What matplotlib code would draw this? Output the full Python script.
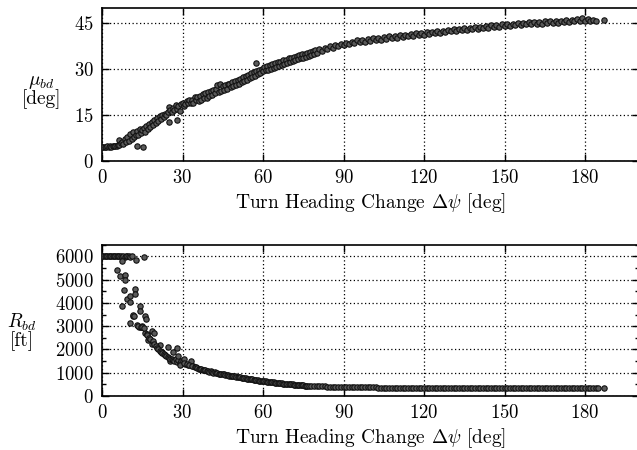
import matplotlib
matplotlib.use("Agg")
import matplotlib.pyplot as plt
from matplotlib.ticker import MultipleLocator

plt.rcParams["font.family"] = "serif"
plt.rcParams["font.serif"] = ["cmr10", "DejaVu Serif"]
plt.rcParams["mathtext.fontset"] = "cm"
plt.rcParams["axes.formatter.use_mathtext"] = True

# Bank angle versus turn heading change
mu_x = [
    0, 0.5, 1, 1.5, 2, 2.5, 3, 3.5, 4, 4.5,
    5, 5.5, 6, 6.2, 6.5, 7, 7.5, 8, 8.5, 9,
    9.5, 10, 10.5, 11, 11.5, 12, 12.5, 13, 13.2, 13.5,
    14, 14.5, 15, 15.2, 15.5, 16, 16.5, 17, 17.5, 18,
    18.5, 19, 19.5, 20, 20.5, 21, 21.5, 22, 22.5, 23,
    23.5, 24, 24.5, 24.8, 25, 25.5, 26, 26.5, 27, 27.4,
    27.9, 28, 28.5, 29, 29.5, 30, 30.5, 31, 31.5, 32,
    32.5, 33, 33.5, 34, 34.5, 35, 35.5, 36, 36.5, 37,
    37.5, 38, 38.5, 39, 39.5, 40, 40.5, 41, 41.5, 42,
    42.5, 43, 43.5, 44, 44.5, 45, 45.5, 46, 46.5, 47,
    47.5, 48, 48.5, 49, 49.5, 50, 50.5, 51, 51.5, 52,
    52.5, 53, 53.5, 54, 54.5, 55, 55.5, 56, 56.5, 57,
    57.3, 57.5, 58, 58.5, 59, 59.5, 60, 60.5, 61, 61.5,
    62, 62.5, 63, 63.5, 64, 64.5, 65, 65.5, 66, 66.5,
    67, 67.5, 68, 68.5, 69, 69.5, 70, 70.5, 71, 71.5,
    72, 72.5, 73, 73.5, 74, 74.5, 75, 75.5, 76, 76.5,
    77, 77.5, 78, 78.5, 79, 79.5, 80, 81, 82, 83,
    84, 85, 86, 87, 88, 89, 90, 91, 92, 93,
    94, 95, 96, 97, 98, 99, 100, 101, 102, 103,
    104, 105, 106, 107, 108, 109, 110, 111, 112, 113,
    114, 115, 116, 117, 118, 119, 120, 121, 122, 123,
    124, 125, 126, 127, 128, 129, 130, 131, 132, 133,
    134, 135, 136, 137, 138, 139, 140, 141, 142, 143,
    144, 145, 146, 147, 148, 149, 150, 151, 152, 153,
    154, 155, 156, 157, 158, 159, 160, 161, 162, 163,
    164, 165, 166, 167, 168, 169, 170, 171, 172, 173,
    174, 175, 176, 177, 178, 179, 180, 181, 182, 183,
    184, 187,
]
mu_y = [
    4.5, 4.4, 4.5, 4.5, 4.6, 4.5, 4.6, 4.5, 4.7, 4.6,
    4.8, 4.9, 5.0, 6.8, 5.2, 5.6, 6.2, 5.4, 7.0, 6.0,
    7.8, 6.4, 8.6, 7.2, 9.2, 7.8, 8.4, 9.6, 4.7, 8.2,
    10.4, 9.0, 10.0, 4.5, 10.8, 9.4, 11.4, 10.2, 12.0, 11.0,
    12.6, 11.8, 13.4, 12.4, 14.0, 13.0, 14.6, 13.6, 15.0, 14.2,
    15.4, 14.8, 16.0, 12.6, 17.5, 16.6, 15.8, 17.2, 16.4, 18.2,
    13.2, 17.0, 17.8, 16.2, 18.4, 18.8, 18.0, 18.6, 19.4, 18.8,
    19.7, 18.7, 19.7, 18.8, 20.7, 19.7, 20.9, 19.6, 21.2, 20.0,
    21.8, 20.6, 22.0, 20.6, 22.5, 21.3, 22.8, 21.4, 23.2, 22.0,
    23.5, 24.8, 22.4, 25.0, 22.8, 24.4, 23.0, 24.7, 23.4, 25.0,
    25.2, 24.0, 25.8, 24.3, 26.0, 24.8, 26.4, 25.1, 26.8, 25.6,
    27.3, 26.0, 27.8, 26.4, 28.0, 26.9, 28.6, 27.3, 29.0, 27.7,
    32.0, 29.2, 28.2, 29.6, 28.6, 30.0, 29.2, 30.6, 29.6, 31.0,
    29.8, 31.2, 30.0, 31.6, 30.4, 32.0, 30.8, 32.2, 31.0, 32.4,
    31.4, 32.8, 31.7, 33.1, 32.0, 33.5, 32.3, 33.7, 32.6, 33.9,
    33.0, 34.3, 33.2, 34.5, 33.5, 34.8, 33.7, 35.0, 34.0, 35.2,
    34.4, 35.6, 34.7, 35.9, 35.0, 36.3, 35.2, 36.4, 35.8, 36.9,
    36.4, 37.4, 36.9, 37.8, 37.5, 38.1, 38.0, 38.6, 38.3, 38.8,
    38.6, 39.4, 38.8, 39.6, 39.0, 39.8, 39.2, 40.0, 39.4, 40.1,
    39.6, 40.4, 39.9, 40.7, 40.1, 40.9, 40.3, 41.1, 40.5, 41.2,
    40.7, 41.5, 40.9, 41.7, 41.0, 41.9, 41.2, 42.1, 41.4, 42.2,
    41.7, 42.5, 41.9, 42.6, 42.1, 42.9, 42.3, 43.1, 42.5, 43.2,
    42.7, 43.5, 42.9, 43.6, 43.0, 43.8, 43.2, 43.9, 43.4, 44.1,
    43.6, 44.3, 43.7, 44.4, 43.9, 44.6, 44.0, 44.7, 44.2, 44.8,
    44.3, 45.0, 44.5, 45.1, 44.6, 45.3, 44.7, 45.4, 44.8, 45.5,
    44.9, 45.6, 45.0, 45.7, 45.1, 45.8, 45.2, 45.9, 45.3, 46.0,
    45.5, 46.2, 45.6, 46.4, 45.8, 46.6, 45.8, 46.5, 45.8, 46.2,
    45.9, 46.0,
]

# Turn radius versus turn heading change
r_x = [
    0, 0.5, 1, 1.5, 2, 2.5, 3, 3.5, 4, 4.5,
    5, 5.5, 6, 6.5, 7, 7.5, 8, 8.5, 9, 9.5,
    10, 10.5, 11, 7.4, 12.7, 15.5, 5.6, 6.8, 8.7, 8.7,
    8.3, 7.4, 9.3, 10.3, 10.3, 10.5, 11.7, 12.2, 12.4, 11.4,
    12.0, 14.0, 14.0, 14.9, 16.2, 16.5, 13.8, 14.6, 16.0, 16.6,
    17.2, 18.8, 19.2, 18.5, 20.4, 21.5, 22.2, 23.4, 24.7, 25.3,
    13.0, 13.5, 14.5, 15.0, 15.5, 16.8, 17.5, 18.0, 19.0, 19.5,
    20, 20.5, 21, 21.5, 22, 22.5, 23, 23.5, 24, 24.5,
    25, 25.5, 26, 26.5, 27, 27.5, 28, 28.5, 29, 29.5,
    26.4, 28.0, 28.5, 29.2, 30.0, 30.4, 31.0, 32.0, 33.0, 34.0,
    30.5, 31.5, 32.5, 33.5, 34.5, 35, 35.5, 36, 36.5, 37,
    37.5, 38, 38.5, 39, 39.5, 40, 40.5, 41, 41.5, 42,
    42.5, 43, 43.5, 44, 44.5, 45, 45.5, 46, 46.5, 47,
    47.5, 48, 48.5, 49, 49.5, 50, 50.5, 51, 51.5, 52,
    52.5, 53, 53.5, 54, 54.5, 55, 55.5, 56, 56.5, 57,
    57.5, 58, 58.5, 59, 59.5, 60, 60.5, 61, 61.5, 62,
    62.5, 63, 63.5, 64, 64.5, 65, 65.5, 66, 66.5, 67,
    67.5, 68, 68.5, 69, 69.5, 70, 70.5, 71, 71.5, 72,
    72.5, 73, 73.5, 74, 74.5, 75, 75.5, 76, 76.5, 77,
    78, 79, 80, 81, 82, 83, 84, 85, 86, 87,
    88, 89, 90, 91, 92, 93, 94, 95, 96, 97,
    98, 99, 100, 101, 102, 103, 104, 105, 106, 107,
    108, 109, 110, 111, 112, 113, 114, 115, 116, 117,
    118, 119, 120, 121, 122, 123, 124, 125, 126, 127,
    128, 129, 130, 131, 132, 133, 134, 135, 136, 137,
    138, 139, 140, 141, 142, 143, 144, 145, 146, 147,
    148, 149, 150, 151, 152, 153, 154, 155, 156, 157,
    158, 159, 160, 161, 162, 163, 164, 165, 166, 167,
    168, 169, 170, 171, 172, 173, 174, 175, 176, 177,
    178, 179, 180, 181, 182, 183, 184, 185, 187,
]
r_y = [
    6000, 6000, 6000, 6000, 6000, 6000, 6000, 6000, 6000, 6000,
    6000, 6000, 6000, 6000, 6000, 5990, 6000, 5980, 6000, 6000,
    6000, 5990, 6000, 5800, 5830, 5980, 5400, 5150, 5200, 5000,
    4550, 3850, 4150, 4300, 4050, 3150, 3450, 4600, 4400, 3500,
    3450, 3850, 3650, 3000, 3450, 3300, 2950, 2950, 2700, 2650,
    2400, 2800, 2700, 2250, 2100, 2200, 1900, 1750, 2100, 1500,
    3050, 3000, 2950, 2950, 2900, 2600, 2500, 2450, 2350, 2250,
    2150, 2050, 2000, 1950, 1900, 1850, 1800, 1780, 1720, 1680,
    1650, 1600, 1580, 1540, 1500, 1600, 1480, 1550, 1420, 1500,
    1900, 2050, 1700, 1350, 1500, 1600, 1380, 1350, 1500, 1300,
    1420, 1380, 1330, 1280, 1260, 1240, 1210, 1180, 1170, 1150,
    1130, 1100, 1120, 1080, 1070, 1050, 1060, 1020, 1000, 1010,
    980, 990, 960, 950, 940, 930, 950, 910, 900, 890,
    880, 870, 860, 850, 840, 830, 820, 810, 800, 790,
    780, 770, 760, 750, 740, 730, 720, 710, 700, 690,
    680, 675, 665, 655, 650, 640, 630, 625, 615, 610,
    600, 595, 585, 580, 575, 565, 560, 550, 545, 540,
    535, 530, 520, 515, 510, 505, 500, 495, 490, 485,
    480, 475, 470, 465, 460, 455, 450, 448, 445, 440,
    435, 430, 425, 420, 415, 410, 405, 400, 398, 395,
    390, 388, 385, 382, 380, 378, 376, 375, 374, 372,
    371, 369, 368, 367, 366, 365, 364, 364, 363, 362,
    362, 361, 360, 360, 359, 358, 358, 357, 357, 356,
    356, 355, 355, 354, 354, 353, 353, 352, 352, 351,
    351, 350, 350, 350, 349, 349, 348, 348, 347, 347,
    347, 346, 346, 345, 345, 345, 344, 344, 343, 343,
    343, 342, 342, 342, 341, 341, 340, 340, 340, 339,
    339, 339, 338, 338, 338, 337, 337, 336, 336, 336,
    335, 335, 335, 334, 334, 334, 333, 333, 333, 332,
    332, 332, 331, 331, 331, 330, 330, 330, 325,
]

x_ticks = [0, 30, 60, 90, 120, 150, 180]
mu_ticks = [0, 15, 30, 45]
r_ticks = [0, 1000, 2000, 3000, 4000, 5000, 6000]
x_label = r"Turn Heading Change $\Delta\psi$ [deg]"

W, H = 637, 450
fig = plt.figure(figsize=(W / 100, H / 100), dpi=100)


def px_axes(left, top, right, bottom):
    return fig.add_axes([left / W, 1 - bottom / H, (right - left) / W, (bottom - top) / H])


ax1 = px_axes(102, 8, 638.7, 160.5)
ax2 = px_axes(102, 244.7, 638.7, 396)

marker_kw = dict(s=15, facecolor="#5a5a5a", edgecolor="#111111", linewidths=0.8, zorder=3)
ax1.scatter(mu_x, mu_y, **marker_kw)
ax2.scatter(r_x, r_y, **marker_kw)

ax1.set_xlim(0, 200)
ax1.set_ylim(0, 50)
ax1.set_yticks(mu_ticks)
ax2.set_xlim(0, 200)
ax2.set_ylim(0, 6500)
ax2.set_yticks(r_ticks)
ax2.yaxis.set_minor_locator(MultipleLocator(500))

for ax in (ax1, ax2):
    ax.set_xticks(x_ticks)
    ax.grid(True, which="major", color="black", linestyle=(0, (1, 2)), linewidth=0.9)
    ax.set_axisbelow(True)
    ax.tick_params(which="both", direction="in", top=True, right=True,
                   labelsize=13.5, width=1.0, pad=6)
    ax.tick_params(which="major", length=5)
    ax.tick_params(which="minor", length=3)
    for sp in ax.spines.values():
        sp.set_linewidth(1.2)
    ax.set_xlabel(x_label, fontsize=14, labelpad=3)

fig.text(41 / W, 1 - 91 / H, "$\\mu_{bd}$\n[deg]", ha="center", va="center",
         fontsize=14, linespacing=0.9)
fig.text(22 / W, 1 - 331 / H, "$R_{bd}$\n[ft]", ha="center", va="center",
         fontsize=14, linespacing=0.9)

fig.savefig("out.png", dpi=100)
